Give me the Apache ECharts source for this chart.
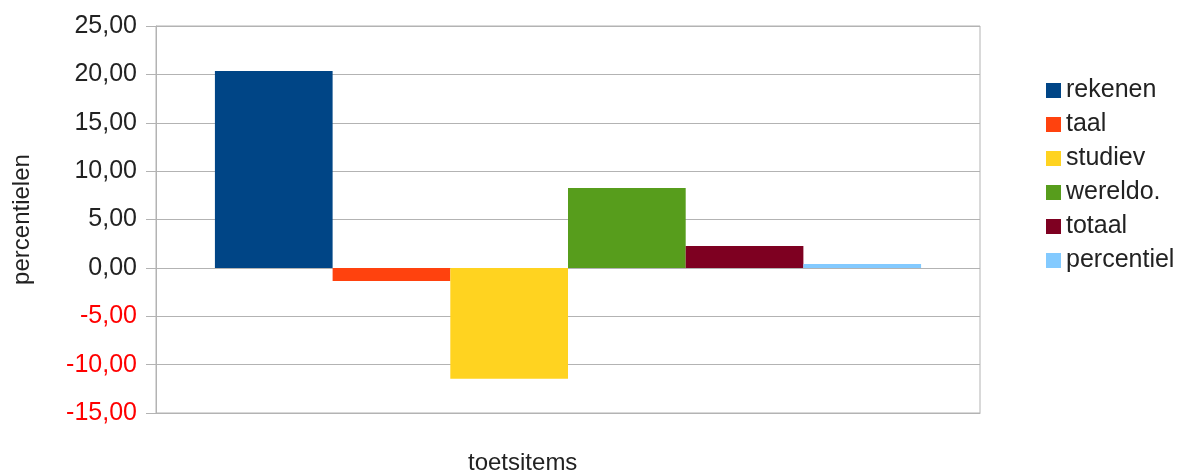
<!DOCTYPE html>
<html>
<head>
<meta charset="utf-8">
<script src="https://cdn.jsdelivr.net/npm/echarts@6/dist/echarts.min.js"></script>
<style>
html,body{margin:0;padding:0;background:#fff;}
#chart{width:1179px;height:475px;}
</style>
</head>
<body>
<div id="chart"></div>
<script>
// gegevens
var categories = ['toetsitems'];
var seriesNames = ['rekenen', 'taal', 'studiev', 'wereldo.', 'totaal', 'percentiel'];
var seriesValues = [20.35, -1.35, -11.45, 8.25, 2.27, 0.4];
var seriesColors = ['#004586', '#ff420e', '#ffd320', '#579d1c', '#7e0021', '#83caff'];
var yTicks = [-15, -10, -5, 0, 5, 10, 15, 20, 25];

var font = 'Liberation Sans, Arial, sans-serif';
var lineColor = '#b3b3b3';

var series = [];
for (var i = 0; i < seriesNames.length; i++) {
    series.push({
        name: seriesNames[i],
        type: 'bar',
        data: [seriesValues[i]],
        barGap: '0%',
        barCategoryGap: '14.3%',
        itemStyle: {color: seriesColors[i]},
        emphasis: {disabled: true}
    });
}

var option = {
    animation: false,
    textStyle: {fontFamily: font},
    grid: {
        left: 156,
        right: 199,
        top: 26,
        bottom: 62,
        outerBoundsMode: 'none',
        containLabel: false,
        show: true,
        borderColor: lineColor,
        borderWidth: 1
    },
    legend: {
        orient: 'vertical',
        left: 1041,
        top: 73,
        itemWidth: 15,
        itemHeight: 15,
        itemGap: 9,
        icon: 'rect',
        textStyle: {fontSize: 25, color: '#222', fontFamily: font},
        data: seriesNames
    },
    xAxis: {
        type: 'category',
        data: categories,
        axisLabel: {show: false},
        axisTick: {show: false},
        axisLine: {onZero: false, lineStyle: {color: lineColor}}
    },
    yAxis: {
        type: 'value',
        min: yTicks[0],
        max: yTicks[yTicks.length - 1],
        interval: 5,
        name: 'percentielen',
        nameLocation: 'middle',
        nameGap: 122,
        nameRotate: 90,
        nameTextStyle: {fontSize: 24, color: '#222', fontFamily: font},
        axisLine: {show: true, lineStyle: {color: lineColor}},
        axisTick: {show: true, inside: false, length: 10, lineStyle: {color: lineColor}},
        axisLabel: {
            margin: 19,
            fontSize: 25,
            fontFamily: font,
            color: function (v) { return v < 0 ? '#ff0000' : '#222'; },
            formatter: function (v) { return v.toFixed(2).replace('.', ','); }
        },
        splitLine: {lineStyle: {color: lineColor}}
    },
    graphic: [{
        type: 'text',
        left: 468,
        top: 451,
        style: {text: categories[0], font: '24px ' + font, fill: '#222'}
    }],
    series: series
};

var myChart = echarts.init(document.getElementById('chart'));
myChart.setOption(option);
</script>
</body>
</html>
